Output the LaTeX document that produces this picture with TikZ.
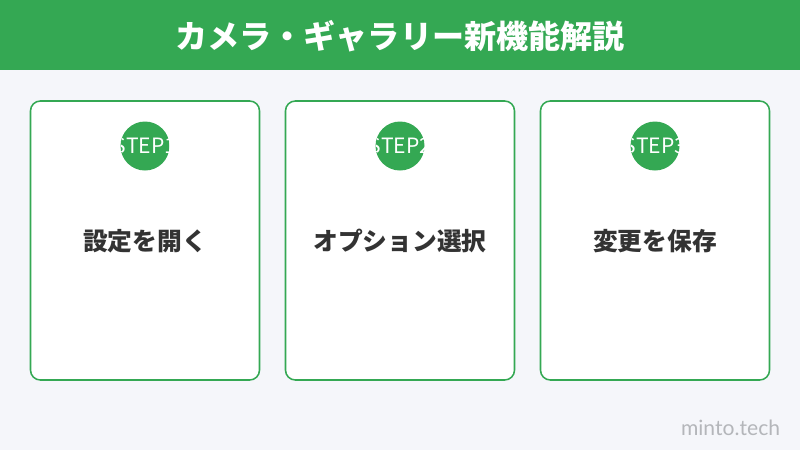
\documentclass[tikz,border=0pt]{standalone}
\usepackage{fontspec}
\newfontfamily\cjk{Noto Sans CJK JP}
\newfontfamily\latin{Lato}
\definecolor{mgreen}{HTML}{34A853}
\definecolor{pagebg}{HTML}{F5F6FA}
\definecolor{ink}{HTML}{333333}
\definecolor{mark}{HTML}{B4B6BA}
\tikzset{
  card/.style={draw=mgreen, line width=1.1pt, fill=white, rounded corners=7pt},
  steptext/.style={text=white, font=\cjk\fontsize{15}{15}\selectfont, inner sep=0pt},
  cardtext/.style={text=ink, font=\cjk\bfseries\fontsize{17.6}{17.6}\selectfont}
}
\begin{document}
\begin{tikzpicture}[x=0.025cm, y=-0.025cm]
        \useasboundingbox (0, 0) rectangle (800, 450);
        \fill[pagebg] (0, 0) rectangle (800, 450);

        % header
        \fill[mgreen] (0, 0) rectangle (800, 70);
        \node[text=white, font=\cjk\bfseries\fontsize{22.8}{22.8}\selectfont] (title) at (400, 36) {カメラ・ギャラリー新機能解説};

        % cards
        \foreach \i/\x/\label in {1/145/設定を開く, 2/400/オプション選択, 3/655/変更を保存} {
            \draw[card] (\x-114.5, 101) rectangle (\x+114.5, 380);
            \fill[mgreen] (\x, 146) circle (24.5);
            \begin{scope}
                \clip (\x, 146) circle (24.5);
                \node[steptext] (step\i) at (\x, 146) {STEP\i};
            \end{scope}
            \node[cardtext] (label\i) at (\x, 241) {\label};
        }

        \node[anchor=base east, text=mark, font=\latin\fontsize{15}{15}\selectfont] (site) at (785, 435) {minto.tech};
    \end{tikzpicture}
\end{document}
